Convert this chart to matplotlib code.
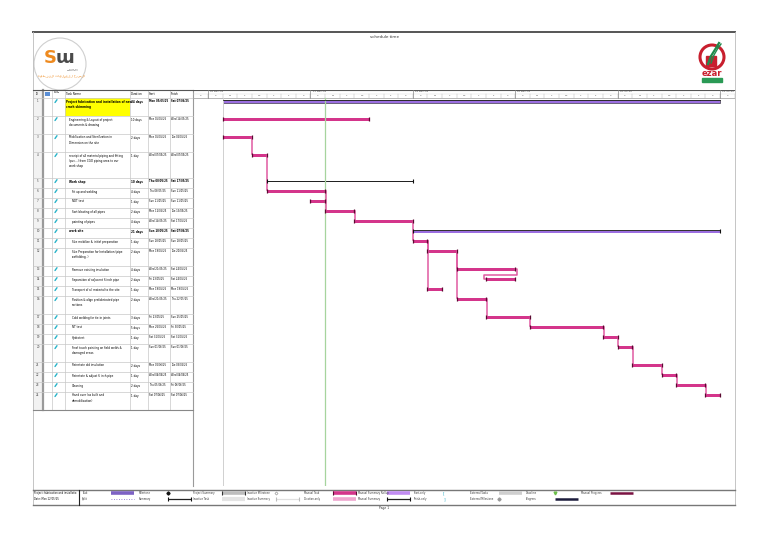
import datetime as dt
import matplotlib
matplotlib.use("Agg")
import matplotlib.pyplot as plt
from matplotlib.patches import Circle, Rectangle

# ---- schedule data (day 0 = first day of the timescale) ----
task_names = [
    "Project fabrication and installation of new\ncrash skimming",
    "Engineering & Layout of project\ndocuments & drawing",
    "Mobilization and Sterilization in\nDimension on the site",
    "receipt of all material piping and fitting\n(pvc...) from CGO piping area to our\nwork shop",
    "Work shop",
    "Fit up and welding",
    "NDT test",
    "Sort blasting of all pipes",
    "painting of pipes",
    "work site",
    "Site mobilize & initial preparation",
    "Site Preparation for Installation (pipe\nscaffolding..)",
    "Remove existing insulation",
    "Separation of adjacent 6 inch pipe",
    "Transport of all material to the site",
    "Position & align prefabricated pipe\nsections",
    "Cold welding for tie-in joints",
    "NT test",
    "Hydrotest",
    "Final touch painting on field welds &\ndamaged areas",
    "Reinstate old insulation",
    "Reinstate & adjust 6 inch pipe",
    "Cleaning",
    "Hand over (as built and\ndemobilization)",
]
levels = [1, 2, 2, 2, 2, 3, 3, 3, 3, 2, 3, 3, 3, 3, 3, 3, 3, 3, 3, 3, 3, 3, 3, 3]
starts = [1, 1, 1, 3, 4, 4, 7, 8, 10, 14, 14, 15, 17, 19, 15, 17, 19, 22, 27, 28, 29, 31, 32, 34]
finishes = [35, 11, 3, 4, 14, 8, 8, 10, 14, 35, 15, 17, 21, 21, 16, 19, 22, 27, 28, 29, 31, 32, 34, 35]
summary_rows = [1, 5, 10]
links = [(3, 4), (4, 6), (6, 8), (8, 9), (9, 11), (11, 12), (11, 15), (12, 13), (12, 16),
         (13, 14), (16, 17), (17, 18), (18, 19), (19, 20), (20, 21), (21, 22), (22, 23), (23, 24)]
status_day = 8
first_day = dt.date(2025, 5, 4)
n_days = 36

col_titles = ["ID", "Task\nMode", "Task Name", "Duration", "Start", "Finish"]

legend_rows = [
    ["Task", "Milestone", "Project Summary", "Inactive Milestone", "Manual Task",
     "Manual Summary Rollup", "Start-only", "External Tasks", "Deadline", "Manual Progress"],
    ["Split", "Summary", "Inactive Task", "Inactive Summary", "Duration-only",
     "Manual Summary", "Finish-only", "External Milestone", "Progress", ""],
]

TASK = "#d4358b"
LINK = "#e05aa2"
PURPLE = "#9b6ee0"
FS = 1.95

fig = plt.figure(figsize=(7.68, 5.43), dpi=100)
ax = fig.add_axes([0, 0, 1, 1])
ax.set_xlim(0, 768)
ax.set_ylim(543, 0)
ax.axis("off")

# page frame
ax.plot([33, 735], [32, 32], color="#555555", lw=1.4)
ax.plot([33, 735], [89.5, 89.5], color="#cccccc", lw=0.5)
ax.plot([33, 33], [32, 505], color="#bbbbbb", lw=0.6)
ax.plot([735, 735], [32, 505], color="#bbbbbb", lw=0.6)
ax.text(384, 37, "schedule time", fontsize=3.0, ha="center", va="center", color="#333333")

# left logo
ax.add_patch(Circle((60, 64), 26, fill=False, ec="#cfcfcf", lw=0.8))
ax.text(50, 58, "S", fontsize=13, fontweight="bold", color="#ee8a1f", ha="center", va="center")
ax.text(65, 58, "ɯ", fontsize=13, fontweight="bold", color="#4a4a4a", ha="center", va="center")
ax.text(73, 70, "Sons Oil\nOperations", fontsize=1.5, color="#555555", ha="center", va="center")
ax.text(61, 76, "السرح للعمليات النفطية"[::-1], fontsize=2.3, color="#ee8a1f",
        ha="center", va="center", family=["DejaVu Sans"])

# right logo
ax.add_patch(Circle((712, 57), 12, fill=False, ec="#c81f2e", lw=2.2))
ax.plot([708, 711, 716, 719], [64, 56, 48, 43], color="#1f8a4c", lw=1.6)
ax.plot([711, 714, 718, 721], [63, 55, 48, 44], color="#1f8a4c", lw=1.0)
ax.add_patch(Rectangle((706, 56), 10, 10, color="#c81f2e"))
ax.text(712, 74, "ezar", fontsize=6, fontweight="bold", color="#c81f2e", ha="center", va="center")
ax.add_patch(Rectangle((702, 78), 20, 4, color="#2a9a55"))

# ---- table ----
col_x = [33, 43, 52, 65, 130, 148, 170, 193]
header_top, header_bot = 90, 97.5
row_tops = []
y = header_bot
for name in task_names:
    row_tops.append(y)
    y += 10 + 8 * name.count("\n")
table_bot = y

ax.add_patch(Rectangle((33, header_top), 10, table_bot - header_top, color="#f2f2f2", lw=0))
ax.add_patch(Rectangle((65, row_tops[0] + 0.5), 65, 18, color="#ffff00", lw=0))
for cx in col_x[2:]:
    ax.plot([cx, cx], [header_top, table_bot], color="#c8c8c8", lw=0.5)
ax.plot([43, 43], [header_top, table_bot], color="#9a9a9a", lw=1.6)
ax.plot([193, 193], [header_top, 486], color="#9a9a9a", lw=0.8)
for yy in row_tops + [table_bot]:
    ax.plot([33, 193], [yy, yy], color="#c8c8c8", lw=0.5)
ax.plot([33, 193], [header_top, header_top], color="#555555", lw=0.8)
ax.plot([33, 193], [table_bot, table_bot], color="#888888", lw=0.8)

ax.text(36, 92, col_titles[0], fontsize=FS, va="top")
ax.add_patch(Rectangle((44.5, 91.5), 5, 4.5, color="#5b8fd6", lw=0))
ax.text(53.5, 91, col_titles[1], fontsize=FS * 0.85, va="top", linespacing=1.1)
for i, tx in enumerate([66, 131, 149, 171]):
    ax.text(tx, 92, col_titles[i + 2], fontsize=FS, va="top")

for i, name in enumerate(task_names):
    top = row_tops[i]
    rid = i + 1
    bold = "bold" if rid in summary_rows else "normal"
    ax.text(38, top + 2, str(rid), fontsize=FS, ha="center", va="top", color="#444444")
    ax.plot([55, 57], [top + 5, top + 2.2], color="#27b3c8", lw=1.0, solid_capstyle="round")
    indent = {1: 66, 2: 69, 3: 72}[levels[i]]
    ax.text(indent, top + 2, name, fontsize=FS, va="top", fontweight=bold, linespacing=1.5)
    d = finishes[i] - starts[i]
    ax.text(131, top + 2, f"{d} day" if d == 1 else f"{d} days", fontsize=FS, va="top",
            fontweight=bold)
    sd = first_day + dt.timedelta(days=starts[i])
    fd = first_day + dt.timedelta(days=finishes[i] - 1)
    ax.text(149, top + 2, sd.strftime("%a %d/%m/%y"), fontsize=FS * 0.95, va="top",
            fontweight=bold)
    ax.text(171, top + 2, fd.strftime("%a %d/%m/%y"), fontsize=FS * 0.95, va="top",
            fontweight=bold)

# ---- gantt ----
px_day = 14.63
x0 = (193 - 208) / px_day
x1 = (735 - 208) / px_day
gax = fig.add_axes([193 / 768, 1 - 486 / 543, (735 - 193) / 768, (486 - 90) / 543])
gax.set_xlim(x0, x1)
gax.set_ylim(486, 90)
gax.axis("off")

gax.plot([x0, x1], [90, 90], color="#555555", lw=0.8)
gax.plot([x0, x1], [97.5, 97.5], color="#999999", lw=0.5)
gax.plot([x0, x1], [93.6, 93.6], color="#dddddd", lw=0.3)
for d in range(-1, n_days + 1):
    gax.plot([d, d], [93.6, 97.5], color="#aaaaaa", lw=0.3)
    if d < n_days:
        gax.text(d + 0.5, 95.6, "SMTWTFS"[d % 7], fontsize=1.7, ha="center", va="center",
                 color="#444444")
for d in range(0, n_days, 7):
    gax.plot([d, d], [90, 97.5], color="#888888", lw=0.5)
    wk = first_day + dt.timedelta(days=d)
    gax.text(d + 0.15, 91.8, wk.strftime("%d %b '%y"), fontsize=1.7, va="center", color="#444444")

gax.plot([1, 1], [97.5, 486], color="#d0d0d0", lw=0.7)
gax.plot([status_day, status_day], [97.5, 486], color="#a6d49e", lw=0.9)


def bar_y(rid):
    return row_tops[rid - 1] + 3.8


jog = 0.15
for p, s in links:
    pe, py = finishes[p - 1], bar_y(p)
    ss, sy = starts[s - 1], bar_y(s)
    if ss >= pe:
        xs, ys = [pe + 0.04, ss + 0.04, ss + 0.04], [py, py, sy - 1.0]
    else:
        mid = sy - 4
        xs = [pe, pe + jog, pe + jog, ss - jog, ss - jog, ss]
        ys = [py, py, mid, mid, sy, sy]
    gax.plot(xs, ys, color=LINK, lw=1.1)

for i in range(len(task_names)):
    rid = i + 1
    yb = bar_y(rid)
    st, w = starts[i], finishes[i] - starts[i]
    if rid == 1:
        gax.barh(yb, w, left=st, height=3.0, color=PURPLE, edgecolor="#222222", lw=0.4)
        gax.plot([st, st + w], [yb - 1.3, yb - 1.3], color="#222222", lw=0.6)
    elif rid == 5:
        gax.barh(yb, w, left=st, height=1.4, color="#222222", lw=0)
        gax.plot([st, st + w], [yb, yb], "|", color="#111111", ms=2.5, mew=0.8)
    elif rid == 10:
        gax.barh(yb - 0.6, w, left=st, height=1.3, color="#333333", lw=0)
        gax.barh(yb + 0.9, w, left=st, height=1.5, color=PURPLE, lw=0)
        gax.plot([st, st + w], [yb, yb], "|", color="#111111", ms=2.5, mew=0.8)
    else:
        gax.barh(yb, w, left=st, height=3.0, color=TASK, lw=0)
        gax.plot([st, st + w], [yb, yb], "|", color="#5a0a30", ms=2.2, mew=0.9)

# ---- legend ----
LFS = 1.85
ax.plot([33, 735], [489.5, 489.5], color="#777777", lw=1.0)
ax.plot([33, 735], [504.5, 504.5], color="#777777", lw=1.0)
ax.plot([79, 79], [489.5, 504.5], color="#222222", lw=0.8)
ax.text(34, 493, "Project: fabrication and installatio", fontsize=LFS, va="center")
ax.text(34, 499, "Date: Mon 12/05/25", fontsize=LFS, va="center")
label_x = [82, 139, 193, 247, 304, 358, 414, 470, 526, 581]
row_y = [493, 499]
for r, labels in enumerate(legend_rows):
    for c, lab in enumerate(labels):
        if lab:
            ax.text(label_x[c], row_y[r], lab, fontsize=LFS, va="center", color="#333333")


def seg(c, yy, color, lw, ls="-", ends=None):
    xa = label_x[c] + 29
    ax.plot([xa, xa + 23], [yy, yy], color=color, lw=lw, ls=ls, solid_capstyle="butt")
    if ends:
        ax.plot([xa, xa + 23], [yy, yy], "|", color=ends, ms=2.5, mew=0.8)


seg(0, 493, "#7d62c4", 2.6)
seg(0, 499, "#7d62c4", 0.6, ls=(0, (1, 2)))
ax.plot(label_x[1] + 29, 493, "D", color="#111111", ms=1.6)
seg(1, 499, "#222222", 0.9, ends="#111111")
seg(2, 493, "#bdbdbd", 2.6, ends="#333333")
seg(2, 499, "#e4e4e4", 3.0)
ax.plot(label_x[3] + 29, 493, "D", mfc="white", mec="#888888", ms=1.6, mew=0.4)
seg(3, 499, "#e0e0e0", 0.9, ends="#bbbbbb")
seg(4, 493, TASK, 2.6, ends="#5a0a30")
seg(4, 499, "#f0a6cf", 2.6)
seg(5, 493, "#c18cf2", 2.6)
seg(5, 499, "#222222", 0.9, ends="#111111")
ax.text(label_x[6] + 29, 493, "[", fontsize=3, color="#1aa7c0", ha="center", va="center")
ax.text(label_x[6] + 30, 499, "]", fontsize=3, color="#1aa7c0", ha="center", va="center")
seg(7, 493, "#cfcfcf", 2.6)
ax.plot(label_x[7] + 29, 499, "D", color="#999999", ms=1.6)
ax.plot(label_x[8] + 29, 493, "v", color="#6cbf4a", ms=2.0)
seg(8, 499, "#1c1c3c", 1.8)
seg(9, 493, "#7a1242", 1.8)

ax.text(384, 508, "Page 1", fontsize=2.2, ha="center", va="center", color="#333333")

fig.savefig("out.png", dpi=100)
